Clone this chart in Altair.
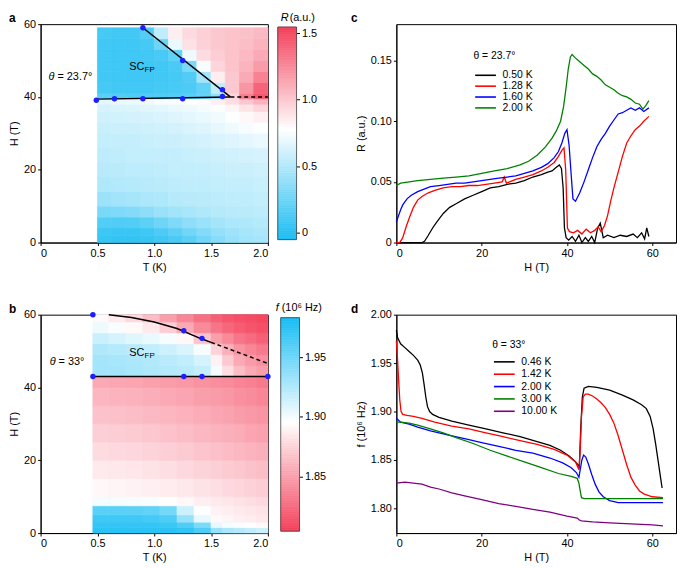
import altair as alt
import numpy as np
import pandas as pd

FONT = "Liberation Sans"

# ---------------- Panel a : R(T,H) map, theta = 23.7 deg ----------------
a_T_edges = [0.5, 0.625, 0.75, 0.875, 1.0, 1.125, 1.25, 1.375, 1.5, 1.625, 1.75, 1.875, 2.0]
a_H_edges = [0, 2, 4, 7, 10, 14, 18, 22, 26, 30, 33, 36, 38, 39.5, 41, 44, 47, 50, 53, 56, 59]
a_R_rows = [
    [0.05, 0.04, 0.04, 0.05, 0.08, 0.12, 0.18, 0.26, 0.34, 0.40, 0.44, 0.46],
    [0.07, 0.06, 0.06, 0.08, 0.13, 0.19, 0.26, 0.33, 0.39, 0.43, 0.46, 0.48],
    [0.15, 0.14, 0.15, 0.19, 0.25, 0.31, 0.37, 0.41, 0.45, 0.48, 0.49, 0.51],
    [0.30, 0.31, 0.33, 0.37, 0.41, 0.44, 0.47, 0.49, 0.51, 0.52, 0.53, 0.54],
    [0.42, 0.44, 0.46, 0.48, 0.49, 0.51, 0.52, 0.53, 0.54, 0.55, 0.55, 0.56],
    [0.49, 0.50, 0.51, 0.52, 0.53, 0.54, 0.55, 0.55, 0.56, 0.57, 0.57, 0.58],
    [0.52, 0.53, 0.54, 0.54, 0.55, 0.56, 0.56, 0.57, 0.58, 0.59, 0.59, 0.60],
    [0.54, 0.55, 0.56, 0.56, 0.57, 0.57, 0.58, 0.59, 0.60, 0.61, 0.62, 0.63],
    [0.56, 0.57, 0.57, 0.58, 0.59, 0.59, 0.60, 0.62, 0.64, 0.66, 0.68, 0.70],
    [0.58, 0.59, 0.59, 0.60, 0.61, 0.62, 0.64, 0.66, 0.69, 0.72, 0.75, 0.77],
    [0.60, 0.61, 0.62, 0.63, 0.64, 0.66, 0.68, 0.70, 0.73, 0.77, 0.81, 0.84],
    [0.63, 0.64, 0.65, 0.67, 0.68, 0.70, 0.72, 0.74, 0.77, 0.82, 0.89, 0.95],
    [0.68, 0.70, 0.71, 0.73, 0.75, 0.76, 0.78, 0.80, 0.84, 0.91, 1.00, 1.08],
    [0.18, 0.15, 0.14, 0.14, 0.14, 0.15, 0.17, 0.22, 0.38, 0.95, 1.30, 1.45],
    [0.10, 0.09, 0.09, 0.09, 0.10, 0.11, 0.13, 0.20, 0.55, 1.00, 1.20, 1.40],
    [0.09, 0.08, 0.08, 0.08, 0.09, 0.10, 0.14, 0.45, 0.85, 1.00, 1.12, 1.28],
    [0.09, 0.08, 0.08, 0.08, 0.09, 0.12, 0.30, 0.75, 0.95, 1.02, 1.08, 1.18],
    [0.09, 0.08, 0.08, 0.09, 0.11, 0.20, 0.72, 0.92, 0.98, 1.02, 1.06, 1.12],
    [0.09, 0.08, 0.08, 0.10, 0.25, 0.70, 0.90, 0.96, 1.00, 1.02, 1.04, 1.08],
    [0.10, 0.09, 0.09, 0.15, 0.55, 0.85, 0.93, 0.97, 1.00, 1.02, 1.03, 1.06],
]
a_pts_T = [0.49, 0.65, 0.9, 1.25, 1.6, 1.6, 1.25, 0.9]
a_pts_H = [39.1, 39.5, 39.5, 39.5, 40.1, 42.0, 50.0, 59.0]
a_low_T = [0.49, 1.67]
a_low_H = [39.4, 40.0]
a_diag_T = [0.9, 1.67]
a_diag_H = [59.0, 40.0]
a_dash_T = [1.67, 2.0]
a_dash_H = [40.0, 40.0]
a_cb_ticks = [0, 0.5, 1.0, 1.5]

# ---------------- Panel b : f(T,H) map, theta = 33 deg ----------------
b_T_edges = [0.46, 0.6, 0.75, 0.9, 1.05, 1.2, 1.35, 1.5, 1.6, 1.7, 1.8, 1.9, 2.0]
b_H_edges = [0, 1.5, 3, 5, 7.5, 10, 15, 20, 25, 30, 35, 40, 43, 46, 49, 52, 55, 58, 60]
b_f_rows = [
    [1.975, 1.975, 1.975, 1.975, 1.975, 1.972, 1.962, 1.935, 1.928, 1.924, 1.920, 1.915],
    [1.972, 1.972, 1.972, 1.972, 1.970, 1.962, 1.945, 1.905, 1.900, 1.898, 1.895, 1.893],
    [1.968, 1.968, 1.968, 1.966, 1.962, 1.935, 1.905, 1.893, 1.891, 1.889, 1.887, 1.885],
    [1.958, 1.958, 1.957, 1.955, 1.948, 1.915, 1.897, 1.890, 1.888, 1.886, 1.884, 1.882],
    [1.900, 1.900, 1.899, 1.898, 1.895, 1.892, 1.889, 1.886, 1.884, 1.882, 1.880, 1.878],
    [1.892, 1.891, 1.890, 1.889, 1.887, 1.885, 1.882, 1.880, 1.878, 1.876, 1.874, 1.872],
    [1.886, 1.885, 1.884, 1.882, 1.880, 1.878, 1.875, 1.873, 1.871, 1.869, 1.867, 1.865],
    [1.879, 1.878, 1.877, 1.875, 1.873, 1.871, 1.868, 1.866, 1.864, 1.862, 1.860, 1.858],
    [1.873, 1.872, 1.871, 1.869, 1.867, 1.865, 1.862, 1.860, 1.858, 1.856, 1.853, 1.851],
    [1.867, 1.866, 1.865, 1.863, 1.861, 1.859, 1.856, 1.854, 1.852, 1.849, 1.847, 1.845],
    [1.861, 1.860, 1.859, 1.857, 1.855, 1.853, 1.850, 1.848, 1.846, 1.843, 1.841, 1.838],
    [1.855, 1.854, 1.853, 1.851, 1.849, 1.847, 1.844, 1.842, 1.840, 1.837, 1.835, 1.832],
    [1.930, 1.930, 1.928, 1.926, 1.924, 1.922, 1.918, 1.900, 1.880, 1.865, 1.855, 1.850],
    [1.930, 1.929, 1.927, 1.925, 1.922, 1.919, 1.912, 1.890, 1.870, 1.855, 1.848, 1.842],
    [1.926, 1.924, 1.922, 1.919, 1.915, 1.910, 1.899, 1.875, 1.858, 1.845, 1.838, 1.832],
    [1.916, 1.912, 1.908, 1.904, 1.899, 1.892, 1.868, 1.850, 1.840, 1.830, 1.825, 1.820],
    [1.902, 1.898, 1.893, 1.886, 1.872, 1.855, 1.840, 1.830, 1.823, 1.818, 1.814, 1.811],
    [1.893, 1.887, 1.878, 1.865, 1.850, 1.838, 1.828, 1.820, 1.815, 1.812, 1.810, 1.808],
]
b_pts_T = [0.46, 0.46, 1.26, 1.42, 2.0, 1.26, 1.42]
b_pts_H = [60.0, 43.0, 43.0, 43.0, 43.0, 55.6, 53.5]
b_low_T = [0.46, 2.0]
b_low_H = [43.0, 43.0]
b_up_T = [0.6, 0.8, 1.0, 1.2, 1.42, 1.5]
b_up_H = [60.0, 59.2, 58.0, 56.2, 53.3, 52.4]
b_dash_T = [1.5, 2.0]
b_dash_H = [52.4, 46.6]
b_cb_ticks = [1.85, 1.90, 1.95]

# ---------------- Panel c : R(H) curves ----------------
c_labels = ["0.50 K", "1.28 K", "1.60 K", "2.00 K"]
c_colors = ["#000000", "#ff0000", "#0000ff", "#008000"]
c_H_050 = [0, 2, 4, 6, 6.6, 7.5, 8.5, 9.5, 11, 12.5, 14, 16, 18, 20, 22, 24, 26, 28, 30, 32,
           34, 35.5, 36.5, 37.5, 38.2, 38.7, 39.1, 39.4, 39.8, 40.4, 41.2, 42, 42.8, 43.5, 44.3,
           45, 45.8, 46.5, 47.2, 47.8, 48.5, 49.5, 51, 52.5, 54, 55.5, 56.5, 57.5, 58.2, 58.7, 59.2]
c_R_050 = [0, 0, 0, 0, 0.001, 0.006, 0.012, 0.017, 0.024, 0.029, 0.032, 0.036, 0.039, 0.042,
           0.045, 0.046, 0.048, 0.049, 0.051, 0.054, 0.056, 0.058, 0.059, 0.062, 0.064, 0.061,
           0.045, 0.012, 0.004, 0.002, 0.005, 0.001, 0.006, 0.0, 0.004, 0.001, 0.005, 0.0, 0.012,
           0.016, 0.004, 0.006, 0.004, 0.006, 0.005, 0.007, 0.004, 0.008, 0.003, 0.012, 0.005]
c_H_128 = [0, 0.8, 1.5, 2.2, 3, 4, 5, 6, 7.5, 9, 11, 13, 15, 17, 19, 21, 23, 24.8, 25.3, 25.8,
           28, 30, 32, 34, 35.5, 37, 38, 38.8, 39.3, 39.7, 40.1, 40.6, 41.5, 42.5, 43.5, 44.5,
           45.5, 46.5, 47.3, 48, 48.8, 49.5, 50.3, 51, 52, 53, 54, 55, 56, 57, 58, 59.2]
c_R_128 = [0, 0, 0.004, 0.012, 0.020, 0.029, 0.035, 0.038, 0.041, 0.043, 0.045, 0.046, 0.046,
           0.047, 0.047, 0.048, 0.049, 0.050, 0.054, 0.049, 0.052, 0.054, 0.056, 0.059, 0.062,
           0.066, 0.071, 0.076, 0.078, 0.060, 0.012, 0.009, 0.008, 0.010, 0.007, 0.011, 0.008,
           0.010, 0.013, 0.009, 0.014, 0.022, 0.035, 0.045, 0.058, 0.071, 0.082, 0.088, 0.093,
           0.096, 0.100, 0.104]
c_H_160 = [0, 0.5, 1, 1.5, 2.5, 3.5, 5, 6.5, 8, 10, 12, 14, 16, 18, 20, 22, 24, 26, 28, 30, 32,
           34, 35.5, 37, 38, 38.8, 39.5, 40, 40.5, 41, 41.4, 42, 43, 44, 45, 46, 47, 48, 49, 50,
           51, 52, 53, 54, 55, 56, 57, 58, 59.2]
c_R_160 = [0.017, 0.022, 0.027, 0.031, 0.036, 0.039, 0.042, 0.044, 0.046, 0.047, 0.048, 0.049,
           0.049, 0.050, 0.051, 0.052, 0.053, 0.054, 0.055, 0.057, 0.059, 0.062, 0.065, 0.070,
           0.075, 0.082, 0.090, 0.093, 0.080, 0.055, 0.036, 0.034, 0.041, 0.050, 0.060, 0.070,
           0.079, 0.085, 0.090, 0.096, 0.101, 0.106, 0.107, 0.109, 0.111, 0.109, 0.111, 0.108,
           0.111]
c_H_200 = [0, 1, 3, 5, 8, 11, 14, 17, 20, 23, 26, 29, 31, 33, 35, 36.5, 37.5, 38.5, 39.2, 39.8,
           40.3, 40.8, 41.2, 42, 43, 44, 45, 46, 47, 48, 49, 50, 51, 52, 53, 54, 55, 56, 57, 57.8,
           58.5, 59.2]
c_R_200 = [0.047, 0.049, 0.050, 0.051, 0.052, 0.053, 0.054, 0.055, 0.057, 0.059, 0.061, 0.064,
           0.067, 0.072, 0.079, 0.086, 0.092, 0.100, 0.112, 0.128, 0.143, 0.153, 0.155, 0.152,
           0.149, 0.146, 0.143, 0.139, 0.137, 0.134, 0.130, 0.128, 0.126, 0.123, 0.121, 0.120,
           0.118, 0.115, 0.114, 0.110, 0.113, 0.117]

# ---------------- Panel d : f(H) curves ----------------
d_labels = ["0.46 K", "1.42 K", "2.00 K", "3.00 K", "10.00 K"]
d_colors = ["#000000", "#ff0000", "#0000ff", "#008000", "#800080"]
d_H_046 = [0, 0.3, 1, 2, 3, 4, 5, 5.6, 6.1, 6.5, 6.9, 7.3, 7.8, 8.5, 10, 13, 17, 21, 25, 29, 33,
           36, 38.5, 40.5, 41.8, 42.6, 42.9, 43.2, 43.6, 44, 45, 47, 50, 53, 55.5, 57.5, 58.6,
           59.5, 60.2, 60.8, 61.4, 62, 62.3]
d_f_046 = [1.984, 1.976, 1.970, 1.966, 1.962, 1.958, 1.953, 1.948, 1.940, 1.928, 1.915, 1.905,
           1.900, 1.897, 1.894, 1.890, 1.886, 1.882, 1.878, 1.874, 1.869, 1.865, 1.860, 1.854,
           1.849, 1.845, 1.843, 1.880, 1.915, 1.924, 1.926, 1.925, 1.922, 1.917, 1.912, 1.907,
           1.903, 1.895, 1.882, 1.866, 1.848, 1.830, 1.821]
d_H_142 = [0, 0.2, 0.5, 0.8, 1.1, 1.5, 2.5, 4, 6, 9, 13, 17, 21, 25, 29, 33, 37, 40, 42, 42.8,
           43.1, 43.4, 43.8, 44.3, 45, 46, 47, 48, 49, 50, 51, 52, 53, 54, 55, 56, 57, 58, 60, 62.5]
d_f_142 = [1.973, 1.960, 1.935, 1.912, 1.900, 1.897, 1.896, 1.895, 1.893, 1.889, 1.885, 1.882,
           1.878, 1.874, 1.870, 1.866, 1.861, 1.855, 1.848, 1.840, 1.860, 1.895, 1.915, 1.918,
           1.918, 1.916, 1.913, 1.909, 1.904, 1.897, 1.888, 1.875, 1.860, 1.845, 1.832, 1.824,
           1.818, 1.815, 1.812, 1.811]
d_H_200 = [0, 1, 3, 5, 8, 12, 16, 20, 24, 28, 32, 36, 39, 41, 42.2, 42.8, 43.1, 43.5, 43.9, 44.4,
           45, 45.8, 46.6, 47.5, 48.5, 50, 52, 55, 58, 62.5]
d_f_200 = [1.893, 1.889, 1.887, 1.884, 1.880, 1.876, 1.872, 1.868, 1.864, 1.860, 1.857, 1.852,
           1.847, 1.842, 1.837, 1.832, 1.840, 1.850, 1.855, 1.853, 1.846, 1.835, 1.825, 1.817,
           1.812, 1.808, 1.806, 1.806, 1.806, 1.806]
d_H_300 = [0, 1, 3, 5, 8, 11, 14, 18, 22, 26, 30, 34, 38, 41, 42.4, 42.8, 43.1, 43.4, 44, 46,
           50, 55, 62.5]
d_f_300 = [1.889, 1.889, 1.888, 1.886, 1.882, 1.878, 1.873, 1.867, 1.860, 1.854, 1.848, 1.842,
           1.836, 1.833, 1.831, 1.826, 1.818, 1.811, 1.810, 1.810, 1.810, 1.810, 1.810]
d_H_1000 = [0, 2, 4, 6, 8, 10, 13, 16, 20, 24, 28, 32, 36, 40, 42.4, 42.9, 43.4, 46, 50, 55, 60, 62.5]
d_f_1000 = [1.826, 1.827, 1.826, 1.825, 1.822, 1.820, 1.816, 1.813, 1.809, 1.805, 1.802, 1.799,
            1.796, 1.792, 1.790, 1.788, 1.787, 1.786, 1.785, 1.784, 1.783, 1.782]

# ---------------- helpers ----------------
BLUE_PT = "#1e1eff"


def grid_df(t_edges, h_edges, rows, name):
    recs = []
    for i in range(len(h_edges) - 1):
        for j in range(len(t_edges) - 1):
            recs.append({"t0": t_edges[j], "t1": t_edges[j + 1],
                         "h0": h_edges[i], "h1": h_edges[i + 1], name: rows[i][j]})
    return pd.DataFrame(recs)


def ptext(txt, x, y, size=11, weight="normal", style="normal", align="left", baseline="middle"):
    return alt.Chart(pd.DataFrame({"t": [txt]})).mark_text(
        align=align, baseline=baseline, fontSize=size, fontWeight=weight,
        fontStyle=style, font=FONT, color="black").encode(
        x=alt.value(x), y=alt.value(y), text="t:N")


def dtext(txt, xv, yv, size=11, style="normal", dx=0, dy=0):
    return alt.Chart(pd.DataFrame({"T": [xv], "H": [yv], "t": [txt]})).mark_text(
        align="left", baseline="middle", fontSize=size, fontStyle=style, font=FONT,
        color="black", dx=dx, dy=dy).encode(x="T:Q", y="H:Q", text="t:N")


def seg(ts, hs, dash=None):
    kw = dict(color="black", strokeWidth=1.5)
    if dash:
        kw["strokeDash"] = dash
    return alt.Chart(pd.DataFrame({"T": ts, "H": hs})).mark_line(**kw).encode(x="T:Q", y="H:Q")


def pts(ts, hs):
    return alt.Chart(pd.DataFrame({"T": ts, "H": hs})).mark_circle(
        size=30, color=BLUE_PT, opacity=1).encode(x="T:Q", y="H:Q")


axT = alt.Axis(values=[0, 0.5, 1, 1.5, 2], title="T (K)", titlePadding=3,
               labelExpr="datum.value == 0 ? '0' : format(datum.value, '.1f')")
axH = alt.Axis(values=[0, 20, 40, 60], format="d", title="H (T)")
scT = alt.Scale(domain=[0, 2], nice=False, zero=False)
scH = alt.Scale(domain=[0, 60], nice=False, zero=False)


def colormap_panel(t_edges, h_edges, rows, field, cscale, cb_domain, cb_lo, cb_hi,
                   cb_ticks, cb_fmt, cb_x0, extras, title_marks, label):
    df = grid_df(t_edges, h_edges, rows, field)
    heat = alt.Chart(df).mark_rect(strokeWidth=0.7).encode(
        x=alt.X("t0:Q", scale=scT, axis=axT), x2="t1:Q",
        y=alt.Y("h0:Q", scale=scH, axis=axH), y2="h1:Q",
        color=alt.Color(f"{field}:Q", scale=cscale, legend=None),
        stroke=alt.Stroke(f"{field}:Q", scale=cscale, legend=None))
    inner = alt.layer(heat, *extras, ptext(label, -32, -6, size=12, weight="bold"))
    steps = np.linspace(cb_lo, cb_hi, 121)
    cdf = pd.DataFrame({"v0": steps[:-1], "v1": steps[1:], field: (steps[:-1] + steps[1:]) / 2})
    cb = alt.Chart(cdf).mark_rect(strokeWidth=0.7).encode(
        x=alt.value(cb_x0), x2=alt.value(cb_x0 + 19),
        y=alt.Y("v0:Q", scale=alt.Scale(domain=cb_domain, nice=False, zero=False),
                axis=alt.Axis(orient="right", offset=cb_x0 + 19 - 230, values=cb_ticks,
                              labelExpr=cb_fmt, domain=False, grid=False, title=None,
                              tickSize=3, labelPadding=2)),
        y2="v1:Q",
        color=alt.Color(f"{field}:Q", scale=cscale, legend=None),
        stroke=alt.Stroke(f"{field}:Q", scale=cscale, legend=None))
    frame = alt.Chart(pd.DataFrame({"v0": [cb_lo], "v1": [cb_hi]})).mark_rect(
        fill="transparent", stroke="#444444", strokeWidth=0.8).encode(
        x=alt.value(cb_x0), x2=alt.value(cb_x0 + 19), y="v0:Q", y2="v1:Q")
    cbl = alt.layer(cb, frame, *title_marks)
    return alt.layer(inner, cbl).resolve_scale(y="independent").properties(width=230, height=221)


# ---- panel a ----
sc_a = alt.Scale(domain=[-0.052, 0.78, 1.545], range=["#1bbdf3", "#ffffff", "#f4405a"],
                 interpolate="rgb", clamp=True)
extras_a = [
    seg(a_low_T, a_low_H), seg(a_diag_T, a_diag_H), seg(a_dash_T, a_dash_H, [4, 3]),
    pts(a_pts_T, a_pts_H),
    dtext("θ", 0.07, 45.4, style="italic"), dtext("= 23.7°", 0.07, 45.4, dx=9),
    dtext("SC", 0.78, 48.3), dtext("FP", 0.78, 48.3, size=8, dx=15.5, dy=3),
]
titles_a = [ptext("R", 243, -6, style="italic"), ptext("(a.u.)", 252, -6)]
pa = colormap_panel(a_T_edges, a_H_edges, a_R_rows, "R", sc_a, [-0.074, 1.567], -0.052, 1.545,
                    a_cb_ticks, "datum.value == 0 ? '0' : format(datum.value, '.1f')", 240,
                    extras_a, titles_a, "a")

# ---- panel b ----
sc_b = alt.Scale(domain=[1.8045, 1.896, 1.983], range=["#f4405a", "#ffffff", "#16bdf4"],
                 interpolate="rgb", clamp=True)
extras_b = [
    seg(b_low_T, b_low_H), seg(b_up_T, b_up_H), seg(b_dash_T, b_dash_H, [4, 3]),
    pts(b_pts_T, b_pts_H),
    dtext("θ", 0.08, 47.0, style="italic"), dtext("= 33°", 0.08, 47.0, dx=9),
    dtext("SC", 0.78, 49.4), dtext("FP", 0.78, 49.4, size=8, dx=15.5, dy=3),
]
titles_b = [ptext("f", 238, -7, style="italic"), ptext("(10⁶ Hz)", 244, -7)]
pb = colormap_panel(b_T_edges, b_H_edges, b_f_rows, "f", sc_b, [1.8029, 1.9855], 1.8045, 1.983,
                    b_cb_ticks, "format(datum.value, '.2f')", 243, extras_b, titles_b, "b")


# ---- curve panels ----
def long_df(Hs, Vs, labels):
    recs = []
    for lab, hs, vs in zip(labels, Hs, Vs):
        for k, (h, v) in enumerate(zip(hs, vs)):
            recs.append({"H": h, "v": v, "s": lab, "k": k})
    return pd.DataFrame(recs)


def curve_panel(df, labels, colors, ydom, yticks, yfmt, ytitle, legend_title, lx, ly,
                row_pad, title_pad, label):
    lines = alt.Chart(df).mark_line(strokeWidth=1.3).encode(
        x=alt.X("H:Q", scale=alt.Scale(domain=[0, 65.56], nice=False, zero=False),
                axis=alt.Axis(values=[0, 20, 40, 60], format="d", title="H (T)", titlePadding=3)),
        y=alt.Y("v:Q", scale=alt.Scale(domain=ydom, nice=False, zero=False),
                axis=alt.Axis(values=yticks, labelExpr=yfmt, title=ytitle)),
        color=alt.Color("s:N", scale=alt.Scale(domain=labels, range=colors),
                        legend=alt.Legend(title=legend_title, orient="none", legendX=lx,
                                          legendY=ly, symbolType="M-1,0H5", symbolSize=49,
                                          symbolStrokeWidth=1.6, labelOffset=19,
                                          labelFontSize=10.5, labelFont=FONT,
                                          titleFont=FONT, titleFontSize=10.5,
                                          titleFontWeight="normal", titlePadding=title_pad,
                                          rowPadding=row_pad, padding=0, labelColor="black",
                                          titleColor="black")),
        order="k:Q")
    return alt.layer(lines, ptext(label, -46, -6, size=12, weight="bold")).properties(
        width=283, height=221)


pc = curve_panel(long_df([c_H_050, c_H_128, c_H_160, c_H_200],
                         [c_R_050, c_R_128, c_R_160, c_R_200], c_labels),
                 c_labels, c_colors, [0, 0.18], [0, 0.05, 0.10, 0.15],
                 "datum.value == 0 ? '0' : format(datum.value, '.2f')", "R (a.u.)",
                 "θ = 23.7°", 78, 27, -1, 9, "c")
pd_ = curve_panel(long_df([d_H_046, d_H_142, d_H_200, d_H_300, d_H_1000],
                          [d_f_046, d_f_142, d_f_200, d_f_300, d_f_1000], d_labels),
                  d_labels, d_colors, [1.7745, 2.0], [1.80, 1.85, 1.90, 1.95, 2.00],
                  "format(datum.value, '.2f')", "f (10⁶ Hz)",
                  "θ = 33°", 97, 26, 1.5, 6, "d")

chart = alt.concat(pa, pc, pb, pd_, columns=2, spacing={"row": 73, "column": 130},
                   bounds="flush", align="each").resolve_scale(
    color="independent", stroke="independent").properties(padding=0).configure(
    font=FONT).configure_axis(
    labelFont=FONT, titleFont=FONT, labelFontSize=11, titleFontSize=11,
    labelColor="black", titleColor="black", titleFontWeight="normal",
    tickColor="black", domainColor="black", tickSize=3, grid=False,
    labelPadding=2, titlePadding=4).configure_view(stroke="black", strokeWidth=1)

chart.save("out.html", embed_options={"renderer": "svg", "actions": False})
